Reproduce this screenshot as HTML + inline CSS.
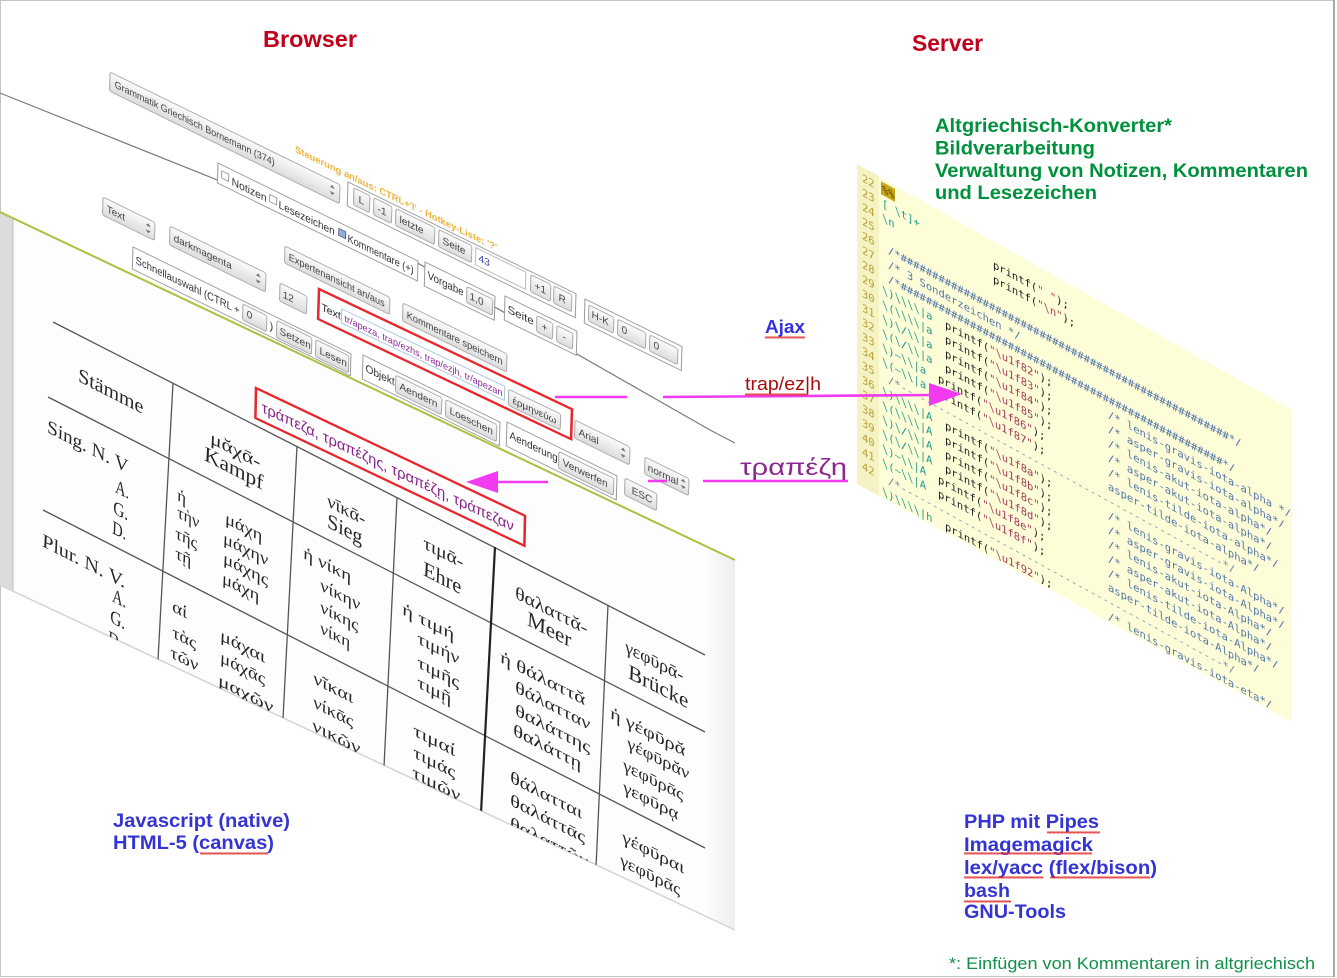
<!DOCTYPE html>
<html><head><meta charset="utf-8">
<style>
html,body{margin:0;padding:0;background:#fff;}
body{width:1337px;height:978px;overflow:hidden;}
svg{display:block;}
.ui text{font-family:"Liberation Sans","DejaVu Sans",sans-serif;font-size:10px;fill:#444;}
.tb text{font-family:"Liberation Serif","DejaVu Serif",serif;fill:#262626;}
.cd text{font-family:"DejaVu Sans Mono","Liberation Mono",monospace;font-size:10.5px;}
.lbl{font-family:"Liberation Sans","DejaVu Sans",sans-serif;}
</style></head>
<body>
<svg width="1337" height="978" viewBox="0 0 1337 978" xmlns="http://www.w3.org/2000/svg">
<defs>
<linearGradient id="bg" x1="0" y1="0" x2="0" y2="1"><stop offset="0" stop-color="#fbfbfb"/><stop offset="1" stop-color="#dcdcdc"/></linearGradient>
<linearGradient id="rs" x1="0" y1="0" x2="1" y2="0"><stop offset="0" stop-color="#fdfdfd"/><stop offset="1" stop-color="#ededed"/></linearGradient>
<pattern id="wv" width="4" height="3" patternUnits="userSpaceOnUse"><path d="M0,2.5L1,0.5L2,2.5L3,0.5L4,2.5" fill="none" stroke="#e02a2a" stroke-width="0.8"/></pattern>
<clipPath id="tp"><polygon points="0,212 735,560 735,930 0,585"/></clipPath>
<clipPath id="cp"><polygon points="857,164 1292,410 1292,722 857,484"/></clipPath>
</defs>

<!-- frame -->
<rect x="0.5" y="0.5" width="1334" height="976" fill="#fff" stroke="#c4c4c4"/>
<line x1="1334" y1="0" x2="1334" y2="977" stroke="#a8a8a8" stroke-width="2"/>

<!-- browser top gray line -->
<polyline points="0,93 400,253 710,430 735,443" fill="none" stroke="#7a7a7a" stroke-width="1.2"/>

<!-- table panel -->
<polygon points="0,212 735,560 735,930 0,585" fill="#fdfdfd"/>
<polygon points="705,546 735,560 735,930 705,916" fill="url(#rs)"/>
<polygon points="0,212 13,218 13,591 0,585" fill="#dcdcdc"/>
<line x1="13" y1="218" x2="13" y2="591" stroke="#bdbdbd"/>
<line x1="0" y1="212" x2="735" y2="560" stroke="#a9c23f" stroke-width="2"/>
<line x1="0" y1="585" x2="735" y2="930" stroke="#d4d4d4" stroke-width="1.5"/>

<g clip-path="url(#tp)">
<g stroke="#555" stroke-width="1.3" fill="none">
<path d="M53,322L705,655"/>
<path d="M48,397L705,732"/>
<path d="M43,510L705,848"/>
<path d="M173,383L158,660"/>
<path d="M297,446L283,719"/>
<path d="M397,497L384,767"/>
<path d="M608,605L596,867"/>
</g>
<path d="M495,547L481,813" stroke="#222" stroke-width="2.2"/>

<g class="tb">
<text transform="matrix(1,.51,-.05,1,78,381)" font-size="20" textLength="65" lengthAdjust="spacingAndGlyphs">Stämme</text>
<text transform="matrix(1,.51,-.05,1,210,443)" font-size="18" textLength="50" lengthAdjust="spacingAndGlyphs">μᾰχᾱ-</text>
<text transform="matrix(1,.51,-.05,1,204,460)" font-size="21" textLength="59" lengthAdjust="spacingAndGlyphs">Kampf</text>
<text transform="matrix(1,.51,-.05,1,327,506)" font-size="18" textLength="38" lengthAdjust="spacingAndGlyphs">νῑκᾱ-</text>
<text transform="matrix(1,.51,-.05,1,327,527)" font-size="21" textLength="35" lengthAdjust="spacingAndGlyphs">Sieg</text>
<text transform="matrix(1,.51,-.05,1,423,548)" font-size="18" textLength="40" lengthAdjust="spacingAndGlyphs">τιμᾱ-</text>
<text transform="matrix(1,.51,-.05,1,423,575)" font-size="21" textLength="38" lengthAdjust="spacingAndGlyphs">Ehre</text>
<text transform="matrix(1,.51,-.05,1,515,598)" font-size="18" textLength="72" lengthAdjust="spacingAndGlyphs">θαλαττᾰ-</text>
<text transform="matrix(1,.51,-.05,1,527,625)" font-size="21" textLength="44" lengthAdjust="spacingAndGlyphs">Meer</text>
<text transform="matrix(1,.51,-.05,1,625,652)" font-size="18" textLength="58" lengthAdjust="spacingAndGlyphs">γεφῡρᾱ-</text>
<text transform="matrix(1,.51,-.05,1,628,678)" font-size="21" textLength="60" lengthAdjust="spacingAndGlyphs">Brücke</text>

<text transform="matrix(1,.51,-.05,1,47,432)" font-size="19" textLength="81" lengthAdjust="spacingAndGlyphs">Sing. N. V</text>
<text transform="matrix(1,.51,-.05,1,115,492)" font-size="19" textLength="14" lengthAdjust="spacingAndGlyphs">A.</text>
<text transform="matrix(1,.51,-.05,1,113,513)" font-size="19" textLength="15" lengthAdjust="spacingAndGlyphs">G.</text>
<text transform="matrix(1,.51,-.05,1,112,533)" font-size="19" textLength="14" lengthAdjust="spacingAndGlyphs">D.</text>
<text transform="matrix(1,.51,-.05,1,42,546)" font-size="19" textLength="83" lengthAdjust="spacingAndGlyphs">Plur. N. V.</text>
<text transform="matrix(1,.51,-.05,1,112,601)" font-size="19" textLength="14" lengthAdjust="spacingAndGlyphs">A.</text>
<text transform="matrix(1,.51,-.05,1,110,622)" font-size="19" textLength="15" lengthAdjust="spacingAndGlyphs">G.</text>
<text transform="matrix(1,.51,-.05,1,108,643)" font-size="19" textLength="14" lengthAdjust="spacingAndGlyphs">D.</text>

<g font-size="17">
<text transform="matrix(1,.51,-.05,1,177,500)">ἡ</text>
<text transform="matrix(1,.51,-.05,1,177,517)" textLength="22" lengthAdjust="spacingAndGlyphs">τὴν</text>
<text transform="matrix(1,.51,-.05,1,175,538)" textLength="22" lengthAdjust="spacingAndGlyphs">τῆς</text>
<text transform="matrix(1,.51,-.05,1,175,558)" textLength="16" lengthAdjust="spacingAndGlyphs">τῇ</text>
<text transform="matrix(1,.51,-.05,1,225,523)" textLength="37" lengthAdjust="spacingAndGlyphs">μάχη</text>
<text transform="matrix(1,.51,-.05,1,223,543)" textLength="45" lengthAdjust="spacingAndGlyphs">μάχην</text>
<text transform="matrix(1,.51,-.05,1,223,563)" textLength="45" lengthAdjust="spacingAndGlyphs">μάχης</text>
<text transform="matrix(1,.51,-.05,1,222,583)" textLength="37" lengthAdjust="spacingAndGlyphs">μάχη</text>
<text transform="matrix(1,.51,-.05,1,172,611)" textLength="15" lengthAdjust="spacingAndGlyphs">αἱ</text>
<text transform="matrix(1,.51,-.05,1,172,637)" textLength="24" lengthAdjust="spacingAndGlyphs">τὰς</text>
<text transform="matrix(1,.51,-.05,1,170,657)" textLength="28" lengthAdjust="spacingAndGlyphs">τῶν</text>
<text transform="matrix(1,.51,-.05,1,220,640)" textLength="45" lengthAdjust="spacingAndGlyphs">μάχαι</text>
<text transform="matrix(1,.51,-.05,1,220,662)" textLength="45" lengthAdjust="spacingAndGlyphs">μάχᾱς</text>
<text transform="matrix(1,.51,-.05,1,218,685)" textLength="55" lengthAdjust="spacingAndGlyphs">μαχῶν</text>
<text transform="matrix(1,.51,-.05,1,303,558)" textLength="48" lengthAdjust="spacingAndGlyphs">ἡ νίκη</text>
<text transform="matrix(1,.51,-.05,1,320,590)" textLength="40" lengthAdjust="spacingAndGlyphs">νίκην</text>
<text transform="matrix(1,.51,-.05,1,320,612)" textLength="38" lengthAdjust="spacingAndGlyphs">νίκης</text>
<text transform="matrix(1,.51,-.05,1,320,633)" textLength="30" lengthAdjust="spacingAndGlyphs">νίκη</text>
<text transform="matrix(1,.51,-.05,1,313,683)" textLength="40" lengthAdjust="spacingAndGlyphs">νῖκαι</text>
<text transform="matrix(1,.51,-.05,1,313,707)" textLength="40" lengthAdjust="spacingAndGlyphs">νίκᾱς</text>
<text transform="matrix(1,.51,-.05,1,312,730)" textLength="48" lengthAdjust="spacingAndGlyphs">νικῶν</text>
<text transform="matrix(1,.51,-.05,1,402,614)" textLength="52" lengthAdjust="spacingAndGlyphs">ἡ τιμή</text>
<text transform="matrix(1,.51,-.05,1,417,643)" textLength="42" lengthAdjust="spacingAndGlyphs">τιμήν</text>
<text transform="matrix(1,.51,-.05,1,417,667)" textLength="42" lengthAdjust="spacingAndGlyphs">τιμῆς</text>
<text transform="matrix(1,.51,-.05,1,417,687)" textLength="34" lengthAdjust="spacingAndGlyphs">τιμῇ</text>
<text transform="matrix(1,.51,-.05,1,413,735)" textLength="42" lengthAdjust="spacingAndGlyphs">τιμαί</text>
<text transform="matrix(1,.51,-.05,1,413,757)" textLength="42" lengthAdjust="spacingAndGlyphs">τιμάς</text>
<text transform="matrix(1,.51,-.05,1,412,777)" textLength="48" lengthAdjust="spacingAndGlyphs">τιμῶν</text>
<text transform="matrix(1,.51,-.05,1,500,662)" textLength="85" lengthAdjust="spacingAndGlyphs">ἡ θάλαττᾰ</text>
<text transform="matrix(1,.51,-.05,1,515,692)" textLength="75" lengthAdjust="spacingAndGlyphs">θάλατταν</text>
<text transform="matrix(1,.51,-.05,1,515,715)" textLength="75" lengthAdjust="spacingAndGlyphs">θαλάττης</text>
<text transform="matrix(1,.51,-.05,1,513,735)" textLength="68" lengthAdjust="spacingAndGlyphs">θαλάττῃ</text>
<text transform="matrix(1,.51,-.05,1,510,782)" textLength="72" lengthAdjust="spacingAndGlyphs">θάλατται</text>
<text transform="matrix(1,.51,-.05,1,510,805)" textLength="75" lengthAdjust="spacingAndGlyphs">θαλάττᾱς</text>
<text transform="matrix(1,.51,-.05,1,510,828)" textLength="78" lengthAdjust="spacingAndGlyphs">θαλαττῶν</text>
<text transform="matrix(1,.51,-.05,1,610,718)" textLength="75" lengthAdjust="spacingAndGlyphs">ἡ γέφῡρᾰ</text>
<text transform="matrix(1,.51,-.05,1,627,748)" textLength="62" lengthAdjust="spacingAndGlyphs">γέφῡρᾰν</text>
<text transform="matrix(1,.51,-.05,1,623,770)" textLength="60" lengthAdjust="spacingAndGlyphs">γεφῡρᾱς</text>
<text transform="matrix(1,.51,-.05,1,623,792)" textLength="55" lengthAdjust="spacingAndGlyphs">γεφῡρᾳ</text>
<text transform="matrix(1,.51,-.05,1,622,842)" textLength="62" lengthAdjust="spacingAndGlyphs">γέφῡραι</text>
<text transform="matrix(1,.51,-.05,1,620,865)" textLength="60" lengthAdjust="spacingAndGlyphs">γεφῡρᾱς</text>
</g>
</g>
</g>

<!-- toolbar controls -->
<g class="ui">
<g transform="matrix(1,.49,-.03,1,110,72)"><rect width="230" height="19" rx="2" fill="url(#bg)" stroke="#aaa"/><text x="5" y="13" font-size="9.5" textLength="160" lengthAdjust="spacingAndGlyphs">Grammatik Griechisch Bornemann (374)</text><path d="M220,7l2.5,-3l2.5,3zM220,11l2.5,3l2.5,-3z" fill="#777"/></g>

<text transform="matrix(1,.49,-.03,1,295,152)" style="font-size:9.5px;font-weight:bold;fill:#f0b43c" textLength="202" lengthAdjust="spacingAndGlyphs">Steuerung an/aus: CTRL+'I' - Hotkey-Liste: '?'</text>

<g transform="matrix(1,.49,-.03,1,218,163)"><rect width="200" height="20" fill="#fff" stroke="#9a9a9a"/>
<rect x="4" y="6" width="7" height="7" fill="#fff" stroke="#888" stroke-width=".8"/><text x="14" y="15" style="font-size:11px;fill:#333" textLength="35" lengthAdjust="spacingAndGlyphs">Notizen</text>
<rect x="52" y="6" width="7" height="7" fill="#fff" stroke="#888" stroke-width=".8"/><text x="61" y="15" style="font-size:11px;fill:#333" textLength="56" lengthAdjust="spacingAndGlyphs">Lesezeichen</text>
<rect x="121" y="6" width="7" height="7" fill="#8fb0dd" stroke="#557" stroke-width=".8"/><text x="130" y="15" style="font-size:11px;fill:#333" textLength="66" lengthAdjust="spacingAndGlyphs">Kommentare (+)</text></g>

<g transform="matrix(1,.49,-.03,1,348,182)"><rect width="228" height="24" fill="#fff" stroke="#9a9a9a"/>
<rect x="6" y="3" width="16" height="17" rx="2" fill="url(#bg)" stroke="#aaa"/><text x="11" y="15">L</text>
<rect x="26" y="3" width="18" height="17" rx="2" fill="url(#bg)" stroke="#aaa"/><text x="30" y="15">-1</text>
<rect x="48" y="3" width="39" height="17" rx="2" fill="url(#bg)" stroke="#aaa"/><text x="52" y="15">letzte</text>
<rect x="91" y="3" width="33" height="17" rx="2" fill="url(#bg)" stroke="#aaa"/><text x="95" y="15">Seite</text>
<rect x="128" y="3" width="50" height="17" fill="#fff" stroke="#bbb"/><text x="131" y="15" style="fill:#3344aa">43</text>
<rect x="183" y="3" width="20" height="17" rx="2" fill="url(#bg)" stroke="#aaa"/><text x="187" y="15">+1</text>
<rect x="206" y="3" width="18" height="17" rx="2" fill="url(#bg)" stroke="#aaa"/><text x="211" y="15">R</text></g>

<g transform="matrix(1,.49,-.03,1,425,262)"><rect width="70" height="24" fill="#fff" stroke="#9a9a9a"/><text x="3" y="15" style="font-size:11px;fill:#333" textLength="36" lengthAdjust="spacingAndGlyphs">Vorgabe</text><rect x="42" y="4" width="26" height="16" rx="2" fill="url(#bg)" stroke="#aaa"/><text x="45" y="15">1,0</text></g>

<g transform="matrix(1,.49,-.03,1,505,296)"><rect width="72" height="24" fill="#fff" stroke="#9a9a9a"/><text x="3" y="15" style="font-size:11px;fill:#333" textLength="26" lengthAdjust="spacingAndGlyphs">Seite</text><rect x="32" y="4" width="16" height="16" rx="2" fill="url(#bg)" stroke="#aaa"/><text x="37" y="15">+</text><rect x="52" y="4" width="16" height="16" rx="2" fill="url(#bg)" stroke="#aaa"/><text x="58" y="15">-</text></g>

<g transform="matrix(1,.49,-.03,1,585,299)"><rect width="97" height="24" fill="#fff" stroke="#9a9a9a"/><rect x="4" y="4" width="25" height="16" rx="2" fill="url(#bg)" stroke="#aaa"/><text x="7" y="15">H-K</text><rect x="33" y="4" width="28" height="16" rx="2" fill="url(#bg)" stroke="#aaa"/><text x="37" y="15">0</text><rect x="65" y="4" width="28" height="16" rx="2" fill="url(#bg)" stroke="#aaa"/><text x="69" y="15">0</text></g>

<g transform="matrix(1,.49,-.03,1,103,197)"><rect width="52" height="18" rx="2" fill="url(#bg)" stroke="#aaa"/><text x="4" y="13">Text</text><path d="M43,7l2.5,-3l2.5,3zM43,11l2.5,3l2.5,-3z" fill="#777"/></g>
<g transform="matrix(1,.49,-.03,1,170,226)"><rect width="96" height="19" rx="2" fill="url(#bg)" stroke="#aaa"/><text x="4" y="13" textLength="58" lengthAdjust="spacingAndGlyphs">darkmagenta</text><path d="M86,7l2.5,-3l2.5,3zM86,11l2.5,3l2.5,-3z" fill="#777"/></g>
<g transform="matrix(1,.49,-.03,1,285,246)"><rect width="105" height="17" rx="2" fill="url(#bg)" stroke="#aaa"/><text x="4" y="12" textLength="96" lengthAdjust="spacingAndGlyphs">Expertenansicht an/aus</text></g>
<g transform="matrix(1,.49,-.03,1,280,283)"><rect width="27" height="18" rx="2" fill="url(#bg)" stroke="#aaa"/><text x="3" y="13">12</text></g>

<g transform="matrix(1,.49,-.03,1,133,247)"><rect width="218" height="22" fill="#fff" stroke="#9a9a9a"/><text x="3" y="15" style="font-size:11px;fill:#333" textLength="104" lengthAdjust="spacingAndGlyphs">Schnellauswahl (CTRL +</text>
<rect x="110" y="3" width="24" height="16" rx="2" fill="url(#bg)" stroke="#aaa"/><text x="114" y="14">0</text><text x="137" y="15" style="font-size:11px;fill:#333">)</text>
<rect x="144" y="3" width="35" height="17" rx="2" fill="url(#bg)" stroke="#aaa"/><text x="147" y="15">Setzen</text>
<rect x="183" y="3" width="33" height="17" rx="2" fill="url(#bg)" stroke="#aaa"/><text x="187" y="15">Lesen</text></g>

<g transform="matrix(1,.49,-.03,1,403,303)"><rect width="104" height="18" rx="2" fill="url(#bg)" stroke="#aaa"/><text x="4" y="13" textLength="96" lengthAdjust="spacingAndGlyphs">Kommentare speichern</text></g>

<g transform="matrix(1,.49,-.03,1,363,355)"><rect width="137" height="24" fill="#fff" stroke="#9a9a9a"/><text x="3" y="15" style="font-size:11px;fill:#333" textLength="29" lengthAdjust="spacingAndGlyphs">Objekt</text>
<rect x="33" y="4" width="46" height="17" rx="2" fill="url(#bg)" stroke="#aaa"/><text x="37" y="16">Aendern</text>
<rect x="83" y="4" width="51" height="17" rx="2" fill="url(#bg)" stroke="#aaa"/><text x="87" y="16">Loeschen</text></g>

<g transform="matrix(1,.49,-.03,1,575,420)"><rect width="55" height="18" rx="2" fill="url(#bg)" stroke="#aaa"/><text x="4" y="13">Arial</text><path d="M46,7l2.5,-3l2.5,3zM46,11l2.5,3l2.5,-3z" fill="#777"/></g>
<g transform="matrix(1,.49,-.03,1,507,422)"><rect width="110" height="24" fill="#fff" stroke="#9a9a9a"/><text x="3" y="15" style="font-size:11px;fill:#333" textLength="48" lengthAdjust="spacingAndGlyphs">Aenderung</text><rect x="52" y="4" width="55" height="17" rx="2" fill="url(#bg)" stroke="#aaa"/><text x="56" y="16">Verwerfen</text></g>
<g transform="matrix(1,.49,-.03,1,645,457)"><rect width="44" height="17" rx="2" fill="url(#bg)" stroke="#aaa"/><text x="3" y="12">normal</text><path d="M36,6l2.5,-3l2.5,3zM36,10l2.5,3l2.5,-3z" fill="#777"/></g>
<g transform="matrix(1,.49,-.03,1,625,478)"><rect width="32" height="17" rx="2" fill="url(#bg)" stroke="#aaa"/><text x="7" y="12">ESC</text></g>

<!-- red box 1 -->
<g transform="matrix(1,.475,-.03,1,319,289)"><rect width="253" height="30" fill="#fff" stroke="#e8262c" stroke-width="2.5"/>
<text x="3" y="20" style="font-size:10.5px;fill:#222">Text:</text>
<rect x="23" y="9" width="163" height="14" fill="#fff" stroke="#a8c4de"/>
<text x="26" y="20" style="font-size:9.5px;fill:#8a2a9a" textLength="158" lengthAdjust="spacingAndGlyphs">tr/apeza, trap/ezhs, trap/ezjh, tr/apezan</text>
<rect x="190" y="10" width="52" height="16" rx="2" fill="url(#bg)" stroke="#aaa"/><text x="194" y="22" style="font-size:9.5px" textLength="44" lengthAdjust="spacingAndGlyphs">ἑρμηνεύω</text></g>

<!-- red box 2 -->
<g transform="matrix(1,.475,-.02,1,256,388)"><rect width="269" height="30" fill="#fff" stroke="#e8262c" stroke-width="2.5"/>
<text x="6" y="21" style="font-size:15px;fill:#88228a" textLength="252" lengthAdjust="spacingAndGlyphs">τράπεζα, τραπέζης, τραπέζῃ, τράπεζαν</text></g>
</g>

<!-- code panel -->
<polygon points="857,164 1292,410 1292,722 857,484" fill="#fdfdd8"/>
<polygon points="857,164 879,176 879,496 857,484" fill="#f5f2c3"/>
<g clip-path="url(#cp)"><g class="cd" transform="translate(857,0) matrix(1,0.55,0,1,0,0)">
<g style="fill:#b9a035">
<text x="5" y="178.5">22</text><text x="5" y="192.9">23</text><text x="5" y="207.3">24</text><text x="5" y="221.7">25</text><text x="5" y="236.1">26</text><text x="5" y="250.5">27</text><text x="5" y="264.9">28</text><text x="5" y="279.3">29</text><text x="5" y="293.7">30</text><text x="5" y="308.1">31</text><text x="5" y="322.5">32</text><text x="5" y="336.9">33</text><text x="5" y="351.3">34</text><text x="5" y="365.7">35</text><text x="5" y="380.1">36</text><text x="5" y="394.5">37</text><text x="5" y="408.9">38</text><text x="5" y="423.3">39</text><text x="5" y="437.7">40</text><text x="5" y="452.1">41</text><text x="5" y="466.5">42</text>
</g>
<rect x="24" y="168" width="14" height="13" fill="#c9a71a"/>
<text x="25" y="178.5" style="fill:#5a4800">%%</text>
<g style="fill:#22998a">
<text x="25" y="192.9">[ \t]+</text><text x="25" y="207.3">\n</text>
<text x="25" y="279.3">\)\\\\|a</text><text x="25" y="293.7">\(\\\\|a</text><text x="25" y="308.1">\)\/\\|a</text><text x="25" y="322.5">\(\/\\|a</text><text x="25" y="336.9">\)~\\|a</text><text x="25" y="351.3">\(~\\|a</text>
<text x="25" y="380.1">\)\\\\|A</text><text x="25" y="394.5">\(\\\\|A</text><text x="25" y="408.9">\)\/\\|A</text><text x="25" y="423.3">\(\/\\|A</text><text x="25" y="437.7">\)~\\|A</text><text x="25" y="452.1">\(~\\|A</text>
<text x="25" y="480.9">\)\\\\|h</text>
</g>
<g style="fill:#5577aa">
<text x="31" y="236.1">/*####################################################*/</text>
<text x="31" y="250.5">/* 3 Sonderzeichen */</text>
<text x="31" y="264.9">/*###################################################*/</text>
<text x="31" y="365.7" style="fill:#7d8cab">/*---------------------------------------------------*/</text>
<text x="31" y="466.5" style="fill:#7d8cab">/*---------------------------------------------------*/</text>
<text x="251" y="279.3">/* lenis-gravis-iota-alpha */</text>
<text x="251" y="293.7">/* asper-gravis-iota-alpha*/</text>
<text x="251" y="308.1">/* lenis-akut-iota-alpha*/</text>
<text x="251" y="322.5">/* asper-akut-iota-alpha*/</text>
<text x="251" y="336.9">/* lenis-tilde-iota-alpha*/</text>
<text x="251" y="351.3">   asper-tilde-iota-alpha*/</text>
<text x="251" y="380.1">/* lenis-gravis-iota-Alpha*/</text>
<text x="251" y="394.5">/* asper-gravis-iota-Alpha*/</text>
<text x="251" y="408.9">/* lenis-akut-iota-Alpha*/</text>
<text x="251" y="423.3">/* asper-akut-iota-Alpha*/</text>
<text x="251" y="437.7">/* lenis-tilde-iota-Alpha*/</text>
<text x="251" y="452.1">   asper-tilde-iota-Alpha*/</text>
<text x="251" y="480.9">/* lenis-gravis-iota-eta*/</text>
</g>
<g style="fill:#1e1e1e">
<text x="136" y="192.9">printf(<tspan style="fill:#a33a5a">" "</tspan>);</text>
<text x="136" y="207.3">printf(<tspan style="fill:#a33a5a">"\n"</tspan>);</text>
<text x="88" y="279.3">printf(<tspan style="fill:#a33a5a">"\u1f82"</tspan>);</text>
<text x="88" y="293.7">printf(<tspan style="fill:#a33a5a">"\u1f83"</tspan>);</text>
<text x="88" y="308.1">printf(<tspan style="fill:#a33a5a">"\u1f84"</tspan>);</text>
<text x="88" y="322.5">printf(<tspan style="fill:#a33a5a">"\u1f85"</tspan>);</text>
<text x="81" y="336.9">printf(<tspan style="fill:#a33a5a">"\u1f86"</tspan>);</text>
<text x="81" y="351.3">printf(<tspan style="fill:#a33a5a">"\u1f87"</tspan>);</text>
<text x="88" y="380.1">printf(<tspan style="fill:#a33a5a">"\u1f8a"</tspan>);</text>
<text x="88" y="394.5">printf(<tspan style="fill:#a33a5a">"\u1f8b"</tspan>);</text>
<text x="88" y="408.9">printf(<tspan style="fill:#a33a5a">"\u1f8c"</tspan>);</text>
<text x="88" y="423.3">printf(<tspan style="fill:#a33a5a">"\u1f8d"</tspan>);</text>
<text x="81" y="437.7">printf(<tspan style="fill:#a33a5a">"\u1f8e"</tspan>);</text>
<text x="81" y="452.1">printf(<tspan style="fill:#a33a5a">"\u1f8f"</tspan>);</text>
<text x="88" y="480.9">printf(<tspan style="fill:#a33a5a">"\u1f92"</tspan>);</text>
</g>
</g></g>

<!-- arrows (on top of panel) -->
<g stroke="#f23af0" stroke-width="2.6" fill="none">
<line x1="555" y1="397" x2="627" y2="397"/>
<line x1="663" y1="397" x2="934" y2="395"/>
<line x1="703" y1="481" x2="848" y2="481"/>
<line x1="648" y1="481" x2="667" y2="481"/>
<line x1="495" y1="482" x2="548" y2="482"/>
</g>
<polygon points="929,383 929,406 962,394" fill="#f23af0"/>
<polygon points="498,471 498,493 466,482" fill="#f23af0"/>

<!-- labels -->
<g class="lbl">
<text x="263" y="47" font-size="23" font-weight="bold" fill="#c0001c" textLength="94" lengthAdjust="spacingAndGlyphs">Browser</text>
<text x="912" y="51" font-size="23" font-weight="bold" fill="#c0001c" textLength="71" lengthAdjust="spacingAndGlyphs">Server</text>

<g font-size="19" font-weight="bold" fill="#00913c">
<text x="935" y="132" textLength="237" lengthAdjust="spacingAndGlyphs">Altgriechisch-Konverter*</text>
<text x="935" y="154.5" textLength="160" lengthAdjust="spacingAndGlyphs">Bildverarbeitung</text>
<text x="935" y="177" textLength="373" lengthAdjust="spacingAndGlyphs">Verwaltung von Notizen, Kommentaren</text>
<text x="935" y="199" textLength="162" lengthAdjust="spacingAndGlyphs">und Lesezeichen</text>
</g>

<text x="765" y="333" font-size="18" font-weight="bold" fill="#3333dd" textLength="40" lengthAdjust="spacingAndGlyphs">Ajax</text>
<text x="745" y="390" font-size="18" fill="#a80c0c" textLength="76" lengthAdjust="spacingAndGlyphs">trap/ez|h</text>
<text x="740" y="475" font-size="23" fill="#8a2890" textLength="107" lengthAdjust="spacingAndGlyphs">τραπέζη</text>

<g font-size="19" font-weight="bold" fill="#3434d4">
<text x="113" y="827" textLength="177" lengthAdjust="spacingAndGlyphs">Javascript (native)</text>
<text x="113" y="849" textLength="161" lengthAdjust="spacingAndGlyphs">HTML-5 (canvas)</text>
<text x="964" y="828" textLength="135" lengthAdjust="spacingAndGlyphs">PHP mit Pipes</text>
<text x="964" y="851" textLength="129" lengthAdjust="spacingAndGlyphs">Imagemagick</text>
<text x="964" y="874" textLength="193" lengthAdjust="spacingAndGlyphs">lex/yacc (flex/bison)</text>
<text x="964" y="897" textLength="46" lengthAdjust="spacingAndGlyphs">bash</text>
<text x="964" y="918" textLength="102" lengthAdjust="spacingAndGlyphs">GNU-Tools</text>
</g>
<text x="949" y="969" font-size="17" fill="#109048" textLength="366" lengthAdjust="spacingAndGlyphs">*: Einfügen von Kommentaren in altgriechisch</text>
</g>

<!-- spell-check squiggles -->
<rect x="765" y="336" width="40" height="3" fill="url(#wv)"/>
<rect x="745" y="393" width="63" height="3" fill="url(#wv)"/>
<rect x="200" y="852" width="68" height="3" fill="url(#wv)"/>
<rect x="1047" y="831" width="53" height="3" fill="url(#wv)"/>
<rect x="964" y="852" width="128" height="3" fill="url(#wv)"/>
<rect x="964" y="876" width="79" height="3" fill="url(#wv)"/>
<rect x="1050" y="876" width="100" height="3" fill="url(#wv)"/>
<rect x="964" y="900" width="47" height="3" fill="url(#wv)"/>
</svg>
</body></html>
